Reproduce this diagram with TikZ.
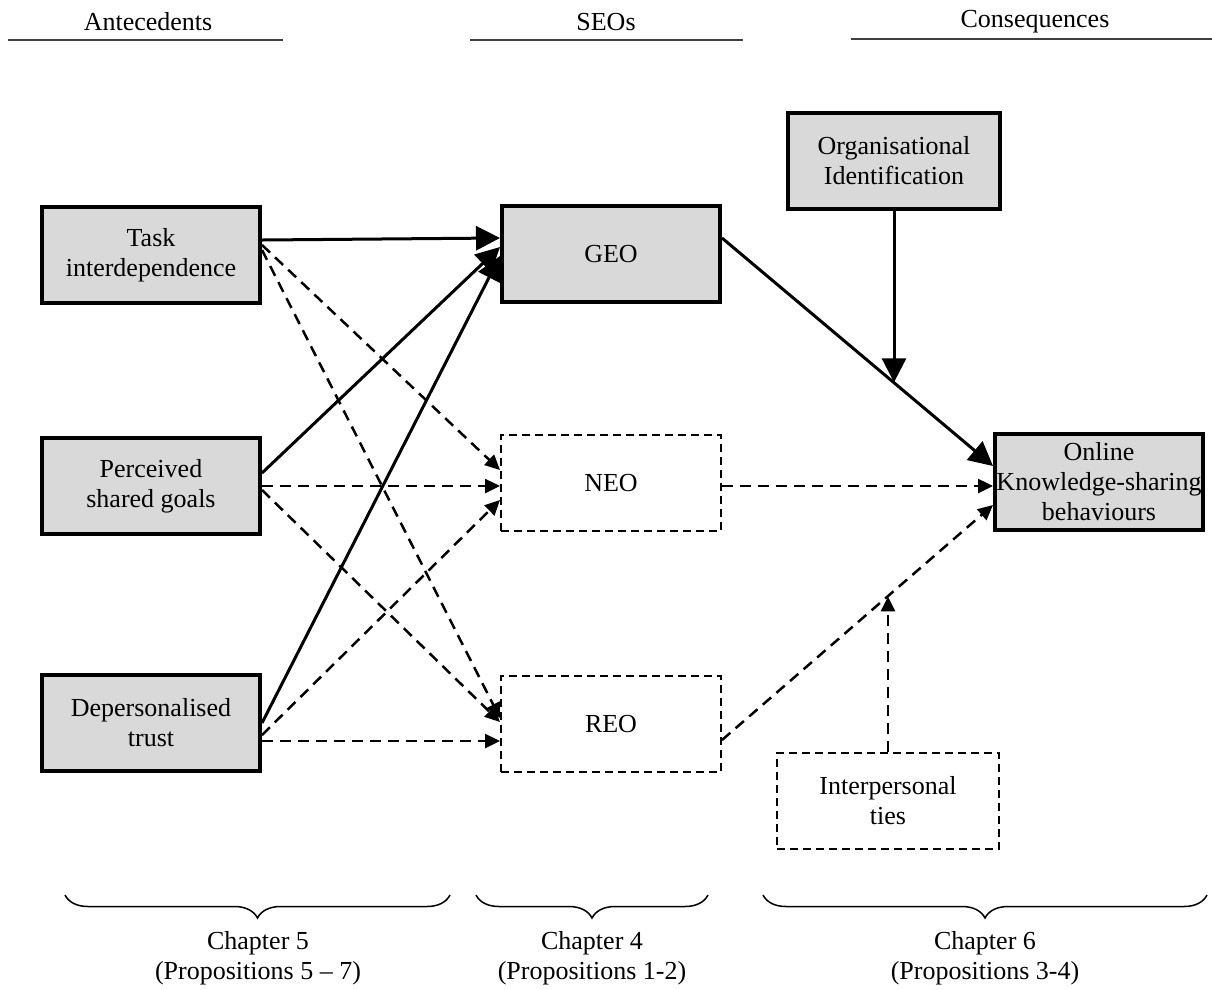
\documentclass[tikz,border=0pt]{standalone}
\usepackage{fontspec}
\setmainfont{Liberation Serif}
\usetikzlibrary{arrows.meta,calc,decorations.pathreplacing}
\definecolor{boxgray}{RGB}{217,217,217}

\begin{document}
\begin{tikzpicture}[x=1pt, y=-1pt,
  every node/.style={font=\fontsize{26}{30}\selectfont, align=center},
  graybox/.style={draw, line width=4pt, fill=boxgray, minimum width=218pt, minimum height=96pt, inner sep=0pt},
  dashbox/.style={draw, line width=2pt, dash pattern=on 8pt off 5pt, minimum width=220pt, minimum height=96pt, inner sep=0pt},
  solidarr/.style={line width=3pt, -{Triangle[length=24pt,width=24pt]}},
  dasharr/.style={line width=2.5pt, dash pattern=on 11pt off 7pt, -{Triangle[length=15pt,width=14pt]}},
  chbrace/.style={decorate, decoration={brace, mirror, amplitude=23pt}, line width=1.5pt},
  headline/.style={line width=2pt, black!75}]
\useasboundingbox (0,0) rectangle (1212,989);

% Column headings
\node (ant) at (148,22) {Antecedents};
\node (seo) at (606,22) {SEOs};
\node (con) at (1035,22) {Consequences};
\draw[headline] (8,40) -- (283,40);
\draw[headline] (470,40) -- (743,40);
\draw[headline] (851,39) -- (1212,39);

% Antecedents
\node[graybox] (task) at (151,255) {Task\\interdependence};
\node[graybox] (psg) at (151,486) {Perceived\\shared goals};
\node[graybox] (dtr) at (151,723) {Depersonalised\\trust};

% SEOs
\node[graybox] (geo) at (611,254) {GEO};
\node[dashbox] (neo) at (611,483) {NEO};
\node[dashbox] (reo) at (611,724) {REO};

% Consequences
\node[graybox, minimum width=212pt] (oi) at (894,161) {Organisational\\Identification};
\node[graybox, minimum width=208pt] (osb) at (1099,482) {Online\\Knowledge-sharing\\behaviours};
\node[dashbox, minimum width=222pt] (ipt) at (888,801) {Interpersonal\\ties};

% Antecedents -> SEOs
\draw[solidarr] ([yshift=15pt]task.east) -- ([yshift=16pt]geo.west);
\draw[solidarr] ([yshift=13pt]psg.east) -- ([yshift=7pt]geo.west);
\draw[solidarr] (dtr.east) -- ([yshift=-2pt]geo.west);
\draw[dasharr] ([yshift=10pt]task.east) -- ([yshift=13pt]neo.west);
\draw[dasharr] ([yshift=5pt]task.east) -- ([yshift=6pt]reo.west);
\draw[dasharr] (psg.east) -- ([yshift=-3pt]neo.west);
\draw[dasharr] ([yshift=-4pt]psg.east) -- ([yshift=2pt]reo.west);
\draw[dasharr] ([yshift=-12pt]dtr.east) -- ([yshift=-17pt]neo.west);
\draw[dasharr] ([yshift=-18pt]dtr.east) -- ([yshift=-17pt]reo.west);

% SEOs -> behaviours, with moderators
\coordinate (g1) at ([yshift=16pt]geo.east);
\coordinate (o1) at ([yshift=16pt]osb.west);
\coordinate (m1) at ($(g1)!0.633!(o1)$);
\draw[solidarr] (g1) -- (o1);
\draw[solidarr] (oi.south) -- (oi.south |- m1);
\draw[dasharr] ([yshift=-3pt]neo.east) -- ([yshift=-4pt]osb.west);
\coordinate (r1) at ([yshift=-16pt]reo.east);
\coordinate (o3) at ([yshift=-23pt]osb.west);
\coordinate (m2) at ($(r1)!0.611!(o3)$);
\draw[dasharr] (r1) -- (o3);
\draw[dasharr] (ipt.north) -- (ipt.north |- m2);

% Chapter braces
\draw[chbrace] (65,895) -- (450,895);
\draw[chbrace] (476,895) -- (708,895);
\draw[chbrace] (763,895) -- (1207,895);
\node (ch5) at (258,958) {Chapter 5\\(Propositions 5 – 7)};
\node (ch4) at (592,958) {Chapter 4\\(Propositions 1-2)};
\node (ch6) at (985,958) {Chapter 6\\(Propositions 3-4)};
\end{tikzpicture}
\end{document}
